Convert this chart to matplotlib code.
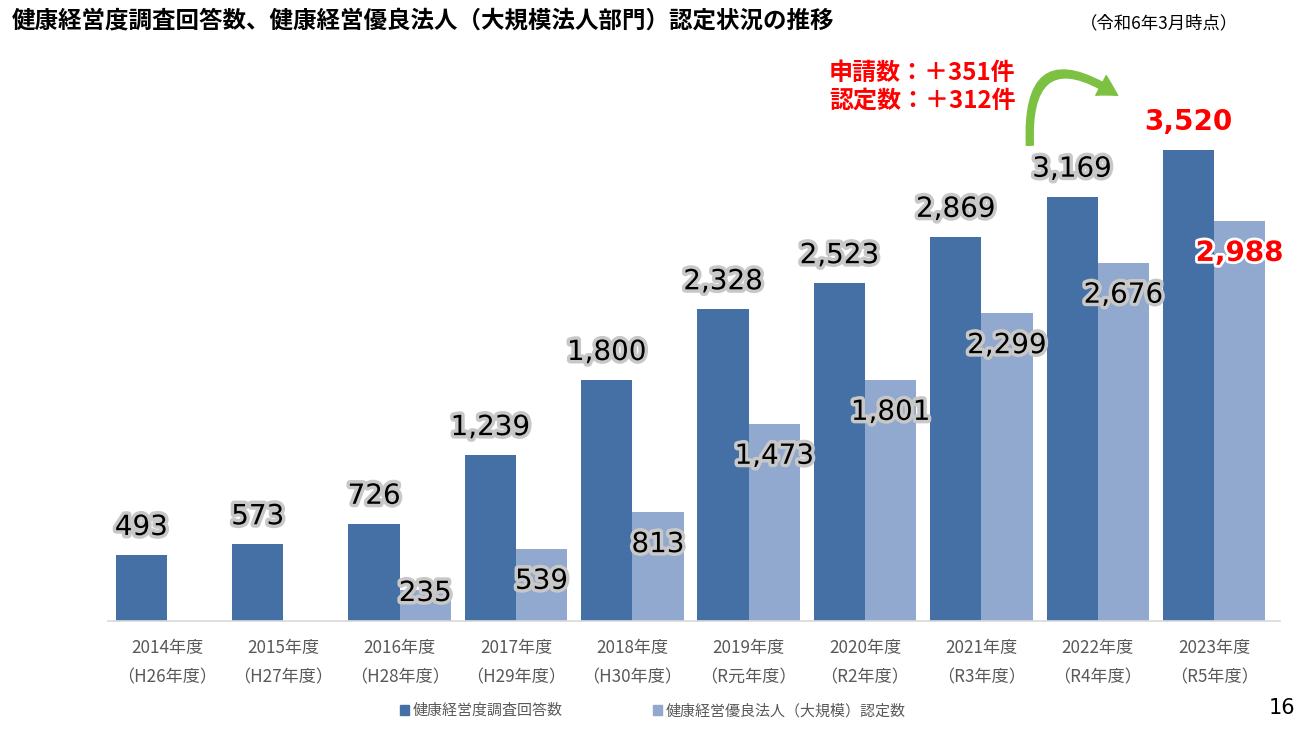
import numpy as np
import matplotlib.pyplot as plt
import matplotlib.patheffects as pe
from matplotlib.patches import Patch, FancyArrowPatch

plt.rcParams['font.family'] = ['Noto Sans CJK JP', 'DejaVu Sans']

years = ['2014年度', '2015年度', '2016年度', '2017年度', '2018年度',
         '2019年度', '2020年度', '2021年度', '2022年度', '2023年度']
eras = ['（H26年度）', '（H27年度）', '（H28年度）', '（H29年度）', '（H30年度）',
        '（R元年度）', '（R2年度）', '（R3年度）', '（R4年度）', '（R5年度）']
responses = [493, 573, 726, 1239, 1800, 2328, 2523, 2869, 3169, 3520]
certified = [None, None, 235, 539, 813, 1473, 1801, 2299, 2676, 2988]

dark = '#4570a6'
light = '#91a8cf'

W, H = 1302, 729
fig = plt.figure(figsize=(W / 100, H / 100), dpi=100)
ax = fig.add_axes([108 / W, 108 / H, (1280 - 108) / W, 561 / H])

x = np.arange(len(years))
bw = 0.44
ax.bar(x - bw / 2, responses, bw, color=dark)
cx = [i for i, v in enumerate(certified) if v is not None]
cv = [v for v in certified if v is not None]
ax.bar(np.array(cx) + bw / 2, cv, bw, color=light)

ax.set_xlim(-0.507, 9.567)
ax.set_ylim(0, 4190)
ax.set_yticks([])
for s in ['top', 'left', 'right']:
    ax.spines[s].set_visible(False)
ax.spines['bottom'].set_color('#d9d9d9')
ax.spines['bottom'].set_linewidth(1.2)
ax.set_xticks(x)
ax.set_xticklabels([f'{a}\n{b}' for a, b in zip(years, eras)],
                   color='#595959', fontsize=12.3, linespacing=1.8)
ax.tick_params(axis='x', length=0, pad=13)

glow = [pe.withStroke(linewidth=5, foreground='#c8c8c8')]
px = 4190 / 561  # data units per pixel

for i, v in enumerate(responses):
    last = i == len(responses) - 1
    ax.text(i - bw / 2, v + 28 * px, f'{v:,}', ha='center', va='center',
            fontsize=20, family='DejaVu Sans',
            color='#ff0000' if last else 'black',
            fontweight='bold' if last else 'normal',
            path_effects=None if last else glow)

for i, v in zip(cx, cv):
    last = i == len(responses) - 1
    yc = max(v - 32 * px, 28 * px)
    ax.text(i + bw / 2, yc, f'{v:,}', ha='center', va='center',
            fontsize=20, family='DejaVu Sans',
            color='#ff0000' if last else 'black',
            fontweight='bold' if last else 'normal',
            path_effects=[pe.withStroke(linewidth=4, foreground='white')] if last else glow)

fig.text(12 / W, 1 - 21 / H,
         '健康経営度調査回答数、健康経営優良法人（大規模法人部門）認定状況の推移',
         fontsize=16.9, fontweight='bold', va='center', ha='left')
fig.text(1080 / W, 1 - 23 / H, '（令和6年3月時点）', fontsize=12.5,
         va='center', ha='left')
fig.text(1282 / W, 1 - 708 / H, '16', fontsize=15, va='center', ha='center',
         family='DejaVu Sans')

fig.text(829 / W, 1 - 73 / H, '申請数：＋351件', fontsize=17.3, fontweight='bold',
         color='#ff0000', va='center', ha='left')
fig.text(829 / W, 1 - 101 / H, '認定数：＋312件', fontsize=17.3, fontweight='bold',
         color='#ff0000', va='center', ha='left')

arrow = FancyArrowPatch((1030 / W, 1 - 148 / H), (1120 / W, 1 - 97 / H),
                        transform=fig.transFigure,
                        connectionstyle='arc3,rad=-1.0',
                        arrowstyle='simple,head_width=16,head_length=14,tail_width=5',
                        color='#7dc142', mutation_scale=1)
fig.patches.append(arrow)

handles = [Patch(color=dark), Patch(color=light)]
fig.legend(handles, ['健康経営度調査回答数', '健康経営優良法人（大規模）認定数'],
           loc='center', bbox_to_anchor=(653 / W, 1 - 711 / H), ncol=2,
           frameon=False, fontsize=10.8, handlelength=0.6, handleheight=0.6,
           handletextpad=0.25, columnspacing=6.0, labelcolor='#595959')

fig.savefig('out.png', dpi=100)
